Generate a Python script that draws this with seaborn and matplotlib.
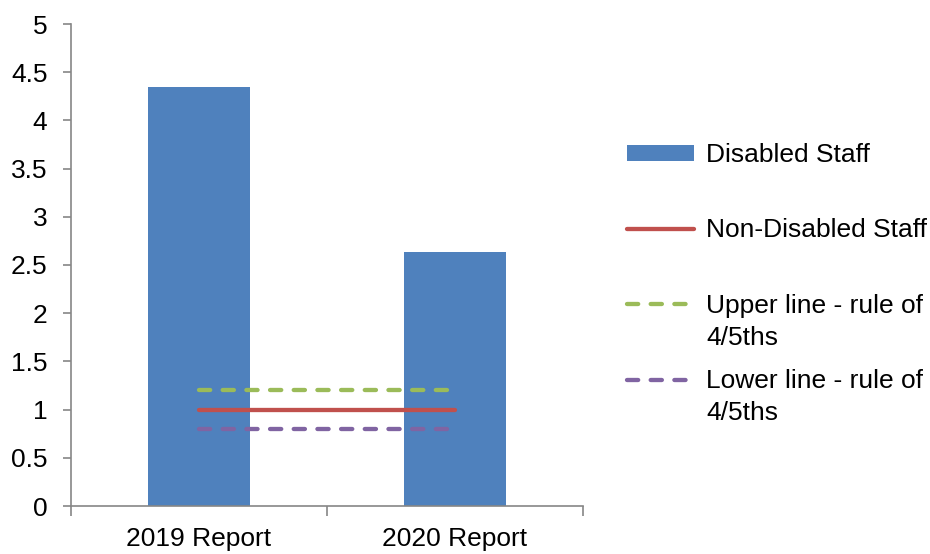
import matplotlib
matplotlib.use("Agg")
import matplotlib.pyplot as plt
import seaborn as sns
import pandas as pd
from matplotlib.lines import Line2D
from matplotlib.patches import Patch
from matplotlib.ticker import FixedLocator

# Data
categories = ["2019 Report", "2020 Report"]
disabled_staff = [4.35, 2.64]
non_disabled_staff = [1.0, 1.0]
upper_line = [1.2, 1.2]
lower_line = [0.8, 0.8]
y_ticks = [0, 0.5, 1, 1.5, 2, 2.5, 3, 3.5, 4, 4.5, 5]
y_tick_labels = ["0", "0.5", "1", "1.5", "2", "2.5", "3", "3.5", "4", "4.5", "5"]

BLUE = "#4F81BD"
RED = "#C0504D"
GREEN = "#9BBB59"
PURPLE = "#8064A2"
AXIS_GREY = "#868686"

sns.set_theme(style="white")
plt.rcParams["font.family"] = ["Liberation Sans", "DejaVu Sans"]
plt.rcParams["text.color"] = "black"
plt.rcParams["xtick.color"] = "black"
plt.rcParams["ytick.color"] = "black"
FS = 19

fig = plt.figure(figsize=(9.3, 5.54), dpi=100)
ax = fig.add_axes([71 / 930, 48 / 554, (583 - 71) / 930, (506 - 24) / 554])

df = pd.DataFrame({"Report": categories, "Ratio": disabled_staff})
sns.barplot(data=df, x="Report", y="Ratio", color=BLUE, saturation=1,
            width=0.4, ax=ax, edgecolor="none")

xs = list(range(len(categories)))
dash_kw = dict(linewidth=3.1, dash_capstyle="round", solid_capstyle="round")
ax.plot(xs, upper_line, color=GREEN, dashes=(2.6, 2.9), **dash_kw)
ax.plot(xs, non_disabled_staff, color=RED, **dash_kw)
ax.plot(xs, lower_line, color=PURPLE, dashes=(2.6, 2.9), **dash_kw)

ax.set_xlim(-0.5, len(categories) - 0.5)
ax.set_ylim(0, 5)
ax.set_xlabel("")
ax.set_ylabel("")
ax.set_yticks(y_ticks)
ax.set_yticklabels(y_tick_labels, fontsize=FS, color="black")
ax.set_xticks(xs)
ax.set_xticklabels(categories, fontsize=FS, color="black")
ax.xaxis.set_minor_locator(FixedLocator([-0.5 + i for i in range(len(categories) + 1)]))

ax.tick_params(axis="x", which="major", length=0, pad=15)
ax.tick_params(axis="x", which="minor", length=7, width=1.2, color=AXIS_GREY, bottom=True)
ax.tick_params(axis="y", which="major", length=6, width=1.2, color=AXIS_GREY, left=True, pad=11)

for side in ("top", "right"):
    ax.spines[side].set_visible(False)
for side in ("left", "bottom"):
    ax.spines[side].set_color(AXIS_GREY)
    ax.spines[side].set_linewidth(1.2)

handles = [
    Patch(facecolor=BLUE, edgecolor="none"),
    Line2D([], [], color=RED, **dash_kw),
    Line2D([], [], color=GREEN, dashes=(2.6, 2.9), **dash_kw),
    Line2D([], [], color=PURPLE, dashes=(2.6, 2.9), **dash_kw),
]
labels = ["Disabled Staff", "Non-Disabled Staff", "Upper line - rule of", "Lower line - rule of"]
leg = fig.legend(handles, labels, loc="upper left",
                 bbox_to_anchor=(627 / 930, 1 - 143 / 554),
                 frameon=False, fontsize=FS, handlelength=2.55, handleheight=0.55,
                 handletextpad=0.45, labelspacing=1.95, borderpad=0, borderaxespad=0)

# Second lines of the two rule-of-4/5ths labels
fig.canvas.draw()
W, H = fig.bbox.width, fig.bbox.height
for txt in leg.get_texts()[2:]:
    bb = txt.get_window_extent()
    fig.text(bb.x0 / W, (bb.y0 - 32) / H, "4/5ths", fontsize=FS,
             ha="left", va="bottom", color="black")

fig.savefig("out.png", dpi=100)
